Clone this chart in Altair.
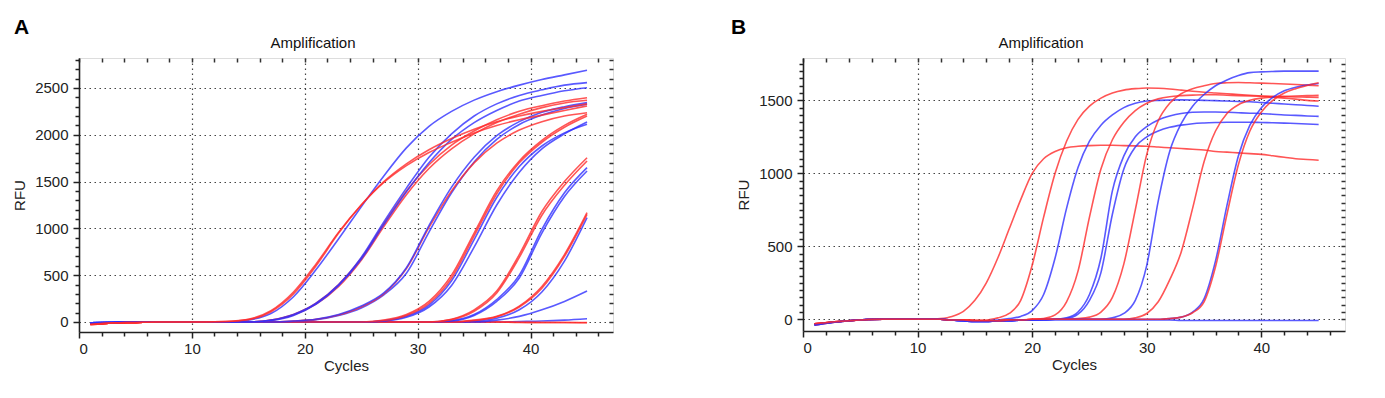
import altair as alt
import pandas as pd

# ---------------- Panel A (cycles sampled every 2) ----------------
CYC_A = [1, 3, 5, 7, 9, 11, 13, 15, 17, 19, 21, 23, 25, 27, 29, 31, 33, 35, 37, 39, 41, 43, 45]

A_R1 = [-30, -10, -5, 0, 0, 0, 5, 25, 110, 300, 600, 950, 1250, 1500, 1690, 1840, 1960, 2060, 2140, 2200, 2250, 2290, 2330]
A_R2 = [-25, -10, -5, 0, 0, 0, 5, 30, 120, 320, 620, 960, 1250, 1490, 1670, 1810, 1920, 2020, 2100, 2160, 2210, 2260, 2308]
A_B1 = [-10, -5, 0, 0, 0, 0, 0, 20, 90, 270, 560, 890, 1230, 1560, 1860, 2090, 2250, 2370, 2460, 2530, 2590, 2640, 2690]
A_B2 = [-10, -5, 0, 0, 0, 0, 0, 0, 20, 80, 200, 400, 690, 1070, 1430, 1760, 2010, 2200, 2330, 2420, 2480, 2530, 2557]
A_B3 = [-10, -5, 0, 0, 0, 0, 0, 0, 15, 70, 190, 390, 670, 1040, 1390, 1700, 1950, 2130, 2260, 2360, 2420, 2470, 2503]
A_R3 = [-25, -10, -5, 0, 0, 0, 0, 0, 20, 80, 200, 400, 680, 1050, 1400, 1680, 1890, 2040, 2160, 2250, 2310, 2360, 2396]
A_R4 = [-25, -10, -5, 0, 0, 0, 0, 0, 18, 75, 190, 380, 660, 1020, 1360, 1640, 1850, 2010, 2130, 2220, 2290, 2340, 2368]
A_B4 = [-10, -5, 0, 0, 0, 0, 0, 0, 0, 10, 30, 80, 170, 310, 580, 1030, 1440, 1760, 1990, 2140, 2240, 2300, 2343]
A_B5 = [-10, -5, 0, 0, 0, 0, 0, 0, 0, 8, 25, 70, 150, 290, 520, 960, 1380, 1710, 1950, 2110, 2210, 2280, 2326]
A_R5 = [-25, -10, -5, 0, 0, 0, 0, 0, 0, 10, 28, 75, 160, 300, 570, 1010, 1400, 1700, 1910, 2050, 2140, 2200, 2236]
A_R6 = [-25, -10, -5, 0, 0, 0, 0, 0, 0, 0, 0, 0, 0, 20, 80, 220, 500, 950, 1400, 1720, 1940, 2100, 2219]
A_R7 = [-25, -10, -5, 0, 0, 0, 0, 0, 0, 0, 0, 0, 0, 15, 70, 200, 470, 920, 1370, 1700, 1920, 2080, 2200]
A_B6 = [-10, -5, 0, 0, 0, 0, 0, 0, 0, 0, 0, 0, 0, 10, 50, 160, 390, 800, 1250, 1600, 1850, 2010, 2137]
A_B7 = [-10, -5, 0, 0, 0, 0, 0, 0, 0, 0, 0, 0, 0, 10, 60, 180, 440, 880, 1330, 1660, 1880, 2020, 2112]
A_R8 = [-25, -10, -5, 0, 0, 0, 0, 0, 0, 0, 0, 0, 0, 0, 0, 0, 30, 130, 330, 720, 1180, 1500, 1755]
A_R9 = [-25, -10, -5, 0, 0, 0, 0, 0, 0, 0, 0, 0, 0, 0, 0, 0, 25, 115, 310, 690, 1140, 1460, 1720]
A_B8 = [-10, -5, 0, 0, 0, 0, 0, 0, 0, 0, 0, 0, 0, 0, 0, 0, 15, 80, 240, 500, 990, 1380, 1649]
A_B9 = [-10, -5, 0, 0, 0, 0, 0, 0, 0, 0, 0, 0, 0, 0, 0, 0, 10, 70, 220, 470, 950, 1340, 1613]
A_R10 = [-25, -10, -5, 0, 0, 0, 0, 0, 0, 0, 0, 0, 0, 0, 0, 0, 0, 20, 60, 170, 380, 720, 1168]
A_R11 = [-25, -10, -5, 0, 0, 0, 0, 0, 0, 0, 0, 0, 0, 0, 0, 0, 0, 15, 55, 160, 360, 700, 1150]
A_B10 = [-10, -5, 0, 0, 0, 0, 0, 0, 0, 0, 0, 0, 0, 0, 0, 0, 0, 10, 40, 130, 320, 650, 1114]
A_B11 = [-10, -5, 0, 0, 0, 0, 0, 0, 0, 0, 0, 0, 0, 0, 0, 0, 0, 0, 20, 60, 130, 220, 331]
A_B12 = [-10, -5, 0, 0, 0, 0, 0, 0, 0, 0, 0, 0, 0, 0, 0, 0, 0, 0, 0, 5, 10, 20, 35]
A_R12 = [-30, -10, -5, 0, 0, 0, 0, 0, 0, 0, 0, 0, 0, 0, 0, 0, 0, 0, 0, -5, -5, -5, -8]
A_R13 = [-25, -10, -5, 0, 0, 0, 0, 0, 0, 0, 0, 0, 0, 0, 0, 0, 0, 0, 0, -3, -5, -5, -5]

# ---------------- Panel B ----------------
CYC_B = [1, 4, 7] + list(range(10, 46))

B_R1 = [-40, -10, 0, 0, 0, 5, 20, 55, 130, 250, 420, 620, 820, 1000, 1100, 1150, 1175, 1185, 1190, 1192, 1192, 1190, 1188, 1185, 1180, 1175, 1170, 1165, 1160, 1150, 1145, 1140, 1135, 1130, 1120, 1110, 1100, 1095, 1090]
B_R2 = [-30, -10, 0, 0, 0, 0, -5, -5, -5, -5, 10, 40, 130, 370, 700, 1000, 1220, 1370, 1460, 1515, 1550, 1570, 1580, 1585, 1583, 1578, 1570, 1562, 1555, 1550, 1545, 1540, 1535, 1530, 1522, 1515, 1508, 1500, 1495]
B_B1 = [-35, -10, 0, 0, 0, 0, -5, -10, -10, -10, -5, 5, 20, 60, 170, 420, 760, 1040, 1220, 1330, 1400, 1450, 1480, 1495, 1500, 1502, 1503, 1502, 1500, 1498, 1495, 1492, 1490, 1485, 1480, 1475, 1470, 1465, 1460]
B_R3 = [-30, -10, 0, 0, 0, 0, -5, -5, -10, -10, -10, -5, -5, 0, 5, 30, 120, 330, 700, 1030, 1230, 1350, 1430, 1480, 1510, 1525, 1532, 1536, 1538, 1538, 1535, 1532, 1530, 1528, 1527, 1525, 1523, 1522, 1520]
B_B2 = [-35, -10, 0, 0, 0, 0, -5, -10, -15, -15, -10, -10, -5, -5, 0, 0, 10, 50, 170, 420, 880, 1120, 1250, 1320, 1365, 1392, 1410, 1418, 1420, 1420, 1418, 1415, 1412, 1410, 1405, 1400, 1397, 1393, 1390]
B_B3 = [-40, -10, 0, 0, 0, 0, -5, -10, -15, -15, -10, -10, -5, -5, 0, 0, 5, 35, 130, 320, 720, 1030, 1180, 1250, 1290, 1315, 1330, 1340, 1345, 1348, 1350, 1350, 1350, 1348, 1346, 1344, 1341, 1338, 1335]
B_R4 = [-30, -10, 0, 0, 0, 0, -5, -5, -10, -10, -10, -5, -5, 0, 0, 0, 0, 5, 15, 50, 150, 380, 750, 1130, 1360, 1480, 1545, 1580, 1600, 1615, 1620, 1622, 1620, 1618, 1615, 1612, 1608, 1604, 1600]
B_B4 = [-35, -10, 0, 0, 0, 0, -5, -10, -15, -15, -10, -10, -5, -5, -5, 0, 0, 0, 0, 0, 10, 40, 130, 370, 810, 1150, 1340, 1460, 1540, 1600, 1640, 1670, 1690, 1695, 1698, 1700, 1700, 1700, 1700]
B_R5 = [-30, -10, 0, 0, 0, 0, -5, -5, -10, -10, -10, -5, -5, 0, 0, 0, 0, 0, 0, 0, 0, 0, 10, 40, 120, 270, 460, 760, 1080, 1290, 1410, 1470, 1500, 1515, 1522, 1527, 1530, 1532, 1534]
B_B5 = [-35, -10, 0, 0, 0, 0, -5, -10, -15, -15, -10, -10, -5, -5, -5, 0, 0, 0, 0, 0, 0, 0, 0, 0, 0, 5, 15, 50, 140, 400, 780, 1120, 1330, 1450, 1520, 1565, 1590, 1605, 1615]
B_R6 = [-30, -10, 0, 0, 0, 0, -5, -5, -10, -10, -10, -5, -5, 0, 0, 0, 0, 0, 0, 0, 0, 0, 0, 0, 0, 5, 15, 45, 120, 360, 720, 1060, 1290, 1420, 1500, 1550, 1580, 1602, 1620]
B_B6 = [-40, -10, 0, 0, 0, 0, -5, -10, -15, -15, -10, -10, -5, -5, -5, -5, -5, -5, -5, -5, -5, -5, -5, -5, -5, -5, -8, -8, -8, -8, -8, -8, -8, -8, -8, -8, -8, -8, -8]

RED = "#ff2a2a"
BLUE = "#2f2fff"

A_SERIES = [
    ("A_B12", BLUE, A_B12), ("A_R12", RED, A_R12), ("A_R13", RED, A_R13),
    ("A_B11", BLUE, A_B11), ("A_B10", BLUE, A_B10), ("A_R10", RED, A_R10), ("A_R11", RED, A_R11),
    ("A_B8", BLUE, A_B8), ("A_B9", BLUE, A_B9), ("A_R8", RED, A_R8), ("A_R9", RED, A_R9),
    ("A_B6", BLUE, A_B6), ("A_R6", RED, A_R6), ("A_B7", BLUE, A_B7), ("A_R7", RED, A_R7),
    ("A_B5", BLUE, A_B5), ("A_R5", RED, A_R5), ("A_B4", BLUE, A_B4),
    ("A_R3", RED, A_R3), ("A_R4", RED, A_R4), ("A_B2", BLUE, A_B2), ("A_B3", BLUE, A_B3),
    ("A_B1", BLUE, A_B1), ("A_R1", RED, A_R1), ("A_R2", RED, A_R2),
]
B_SERIES = [
    ("B_B6", BLUE, B_B6), ("B_R1", RED, B_R1), ("B_R2", RED, B_R2), ("B_B1", BLUE, B_B1),
    ("B_R3", RED, B_R3), ("B_B2", BLUE, B_B2), ("B_B3", BLUE, B_B3), ("B_R4", RED, B_R4),
    ("B_B4", BLUE, B_B4), ("B_R5", RED, B_R5), ("B_B5", BLUE, B_B5), ("B_R6", RED, B_R6),
]

Y_TICKS_A = list(range(0, 2801, 100))
Y_TICKS_B = list(range(0, 1751, 50))
X_TICKS = list(range(0, 47, 2))
PANEL_TITLE = "Amplification"


def frame(cycles, series):
    rows = []
    for k, (name, col, vals) in enumerate(series):
        assert len(vals) == len(cycles), name
        for c, v in zip(cycles, vals):
            rows.append({"curve": name, "col": col, "k": k, "cycle": c, "rfu": v})
    return pd.DataFrame(rows)


FONT = "Liberation Sans"


def panel(df, letter, tag_dx, ydom, yticks, ymajor, w, h):
    xs = alt.Scale(domain=[0, 47.3], nice=False, zero=False)
    ys = alt.Scale(domain=ydom, nice=False, zero=False)
    xaxis = alt.Axis(
        values=X_TICKS, format="d",
        labelExpr="datum.value % 10 === 0 ? datum.label : ''",
        grid=True, gridDash=[1.5, 3.5], gridColor="#444", gridWidth=1.2,
        gridOpacity={"condition": {"test": "datum.value % 10 === 0 && datum.value > 0", "value": 1}, "value": 0},
        tickSize={"condition": {"test": "datum.value % 10 === 0", "value": 6}, "value": 4},
        tickColor="#222", tickWidth=1.5, domainColor="#222", domainWidth=1.6,
        labelFont=FONT, labelFontSize=15, labelColor="#222", labelPadding=3,
        title="Cycles", titleFont=FONT, titleFontSize=15, titleFontWeight="normal",
        titleColor="#222", titlePadding=2,
    )
    yaxis = alt.Axis(
        values=yticks, format="d",
        labelExpr=f"datum.value % {ymajor} === 0 ? datum.label : ''",
        grid=True, gridDash=[1.5, 3.5], gridColor="#444", gridWidth=1.2,
        gridOpacity={"condition": {"test": f"datum.value % {ymajor} === 0", "value": 1}, "value": 0},
        tickSize={"condition": {"test": f"datum.value % {ymajor} === 0", "value": 6}, "value": 4},
        tickColor="#222", tickWidth=1.5, domainColor="#222", domainWidth=1.6,
        labelFont=FONT, labelFontSize=15, labelColor="#222", labelPadding=5,
        title="RFU", titleFont=FONT, titleFontSize=15, titleFontWeight="normal",
        titleColor="#222", titlePadding=7,
    )
    lines = alt.Chart(df).mark_line(strokeWidth=1.6, opacity=0.8, interpolate="monotone", clip=True).encode(
        x=alt.X("cycle:Q", scale=xs, axis=xaxis),
        y=alt.Y("rfu:Q", scale=ys, axis=yaxis),
        color=alt.Color("col:N", scale=None),
        detail="curve:N",
        order="cycle:Q",
    )
    inner = alt.Chart(df).mark_point(opacity=0, size=1).encode(
        x=alt.X("cycle:Q", scale=xs, axis=alt.Axis(
            orient="top", values=X_TICKS, labels=False, domain=False, grid=False, title=None,
            tickSize={"expr": "-4"}, tickColor="#333", tickWidth=1.5)),
        y=alt.Y("rfu:Q", scale=ys, axis=alt.Axis(
            orient="right", values=yticks, labels=False, domain=False, grid=False, title=None,
            tickSize={"expr": "-4"}, tickColor="#333", tickWidth=1.5)),
    )
    tag = alt.Chart(pd.DataFrame({"t": [letter]})).mark_text(
        align="left", baseline="alphabetic", font=FONT, fontSize=21, fontWeight="bold", color="black"
    ).encode(text="t:N", x=alt.value(tag_dx), y=alt.value(-24))
    ttl = alt.Chart(pd.DataFrame({"t": [PANEL_TITLE]})).mark_text(
        align="center", baseline="middle", font=FONT, fontSize=15, color="#111"
    ).encode(text="t:N", x=alt.value(w / 2 - 33), y=alt.value(-15))
    return alt.layer(lines, inner, tag, ttl).resolve_axis(x="independent", y="independent").properties(
        width=w, height=h,
    )


dfA = frame(CYC_A, A_SERIES)
dfB = frame(CYC_B, B_SERIES)

pA = panel(dfA, "A", -65, [-107, 2820], Y_TICKS_A, 500, 534, 274)
pB = panel(dfB, "B", -72, [-80, 1790], Y_TICKS_B, 500, 542, 273)

chart = alt.hconcat(pA, pB, spacing=115).configure_view(stroke="#333", strokeWidth=1.5).properties(
    padding={"left": 4, "top": 8, "right": 5, "bottom": 5}
).configure(background="white")

chart.save("out.html", embed_options={"renderer": "svg", "actions": False})
